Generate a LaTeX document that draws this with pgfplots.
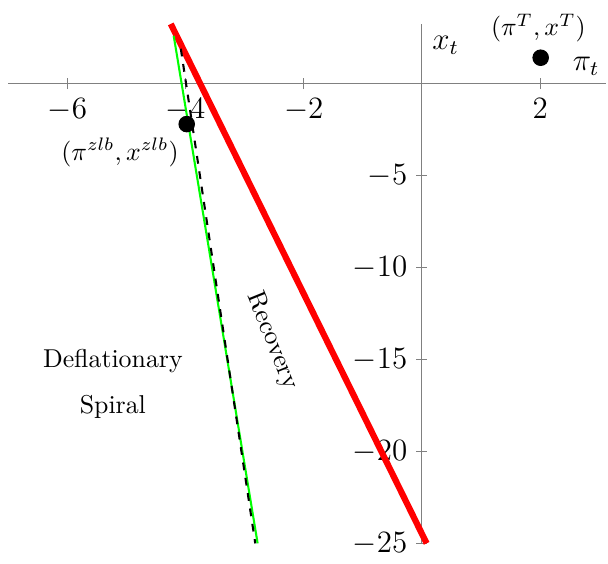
\documentclass[border=0pt]{standalone}
\usepackage{pgfplots}
\pgfplotsset{compat=1.18}
\begin{document}
\begin{tikzpicture}
\begin{axis}[
  scale only axis,
  width=231.5pt,
  height=201.1pt,
  axis lines=middle,
  axis line style={gray, -},
  tick style={gray},
  tick label style={font=\large},
  xmin=-7, xmax=3.12,
  ymin=-25, ymax=3.25,
  xtick={-6,-4,-2,2},
  ytick={-25,-20,-15,-10,-5},
  clip=false,
]
% IS curve (red)
\addplot[red, line width=2.4pt] coordinates {(-4.25,3.25) (0.08,-25)};
% green line
\addplot[green, thick] coordinates {(-4.2,2.6) (-2.78,-25)};
% dashed path
\addplot[black, thick, dashed] coordinates {(-4.08,1.9) (-2.82,-25)};
% steady states
\addplot[only marks, mark=*, mark size=3pt, black] coordinates {(-3.98,-2.2) (2.01,1.41)};
\node at (axis cs:1.97,3.04) {$(\pi^T,x^T)$};
\node at (axis cs:-5.11,-3.74) {$(\pi^{zlb},x^{zlb})$};
\node at (axis cs:2.78,0.95) {\large$\pi_t$};
\node at (axis cs:0.4,2.1) {\large$x_t$};
\node at (axis cs:-5.23,-15.08) {Deflationary};
\node at (axis cs:-5.23,-17.57) {Spiral};
\node[rotate=-68] at (axis cs:-2.53,-14.0) {Recovery};
\path (axis cs:-7.14,4.55) (axis cs:3.12,-25.7);
\end{axis}
\end{tikzpicture}
\end{document}
